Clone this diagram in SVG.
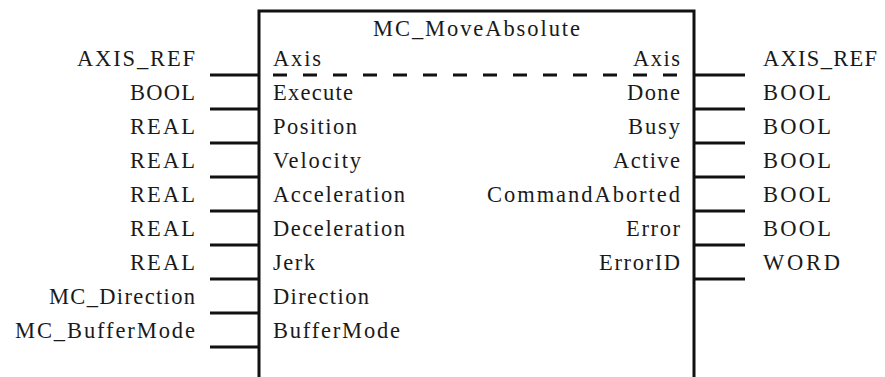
<svg xmlns="http://www.w3.org/2000/svg" width="885" height="377" viewBox="0 0 885 377">
<style>
text{font-family:"Liberation Serif","Times New Roman",serif;font-size:22.5px;fill:#1a1a1a;}
.e{text-anchor:end;}
.pin{stroke:#111;stroke-width:3;fill:none;}
.box{stroke:#111;stroke-width:3;fill:#fff;}
.dash{stroke:#111;stroke-width:3;stroke-dasharray:14 16;fill:none;}
</style>
<rect width="885" height="377" fill="#fff"/>
<g id="block">
<path class="box" d="M259,380 V11 H694 V380"/>
<text x="373" y="36" textLength="207" lengthAdjust="spacing">MC_MoveAbsolute</text>
<line class="dash" x1="273" y1="75" x2="680" y2="75"/>
<text x="273" y="66" textLength="48" lengthAdjust="spacing">Axis</text>
<text x="273" y="100" textLength="80" lengthAdjust="spacing">Execute</text>
<text x="273" y="134" textLength="84" lengthAdjust="spacing">Position</text>
<text x="273" y="168" textLength="88" lengthAdjust="spacing">Velocity</text>
<text x="273" y="202" textLength="132" lengthAdjust="spacing">Acceleration</text>
<text x="273" y="236" textLength="132" lengthAdjust="spacing">Deceleration</text>
<text x="273" y="270" textLength="42" lengthAdjust="spacing">Jerk</text>
<text x="273" y="304" textLength="96" lengthAdjust="spacing">Direction</text>
<text x="273" y="338" textLength="127" lengthAdjust="spacing">BufferMode</text>
<text class="e" x="680" y="66" textLength="47" lengthAdjust="spacing">Axis</text>
<text class="e" x="680" y="100" textLength="53" lengthAdjust="spacing">Done</text>
<text class="e" x="680" y="134" textLength="52" lengthAdjust="spacing">Busy</text>
<text class="e" x="680" y="168" textLength="67" lengthAdjust="spacing">Active</text>
<text class="e" x="680" y="202" textLength="193" lengthAdjust="spacing">CommandAborted</text>
<text class="e" x="680" y="236" textLength="54" lengthAdjust="spacing">Error</text>
<text class="e" x="680" y="270" textLength="81" lengthAdjust="spacing">ErrorID</text>
</g>
<g id="inputs">
<text class="e" x="195" y="66" textLength="118" lengthAdjust="spacing">AXIS_REF</text>
<text class="e" x="195" y="100" textLength="65" lengthAdjust="spacing">BOOL</text>
<text class="e" x="195" y="134" textLength="65" lengthAdjust="spacing">REAL</text>
<text class="e" x="195" y="168" textLength="65" lengthAdjust="spacing">REAL</text>
<text class="e" x="195" y="202" textLength="65" lengthAdjust="spacing">REAL</text>
<text class="e" x="195" y="236" textLength="65" lengthAdjust="spacing">REAL</text>
<text class="e" x="195" y="270" textLength="65" lengthAdjust="spacing">REAL</text>
<text class="e" x="195" y="304" textLength="146" lengthAdjust="spacing">MC_Direction</text>
<text class="e" x="195" y="338" textLength="180" lengthAdjust="spacing">MC_BufferMode</text>
</g>
<g id="outputs">
<text x="763" y="66" textLength="114" lengthAdjust="spacing">AXIS_REF</text>
<text x="763" y="100" textLength="68" lengthAdjust="spacing">BOOL</text>
<text x="763" y="134" textLength="68" lengthAdjust="spacing">BOOL</text>
<text x="763" y="168" textLength="68" lengthAdjust="spacing">BOOL</text>
<text x="763" y="202" textLength="68" lengthAdjust="spacing">BOOL</text>
<text x="763" y="236" textLength="68" lengthAdjust="spacing">BOOL</text>
<text x="763" y="270" textLength="77" lengthAdjust="spacing">WORD</text>
</g>
<g id="connectors" class="pin">
<line x1="210" y1="75" x2="259" y2="75"/>
<line x1="210" y1="109" x2="259" y2="109"/>
<line x1="210" y1="143" x2="259" y2="143"/>
<line x1="210" y1="177" x2="259" y2="177"/>
<line x1="210" y1="211" x2="259" y2="211"/>
<line x1="210" y1="245" x2="259" y2="245"/>
<line x1="210" y1="279" x2="259" y2="279"/>
<line x1="210" y1="313" x2="259" y2="313"/>
<line x1="210" y1="347" x2="259" y2="347"/>
<line x1="694" y1="75" x2="745" y2="75"/>
<line x1="694" y1="109" x2="745" y2="109"/>
<line x1="694" y1="143" x2="745" y2="143"/>
<line x1="694" y1="177" x2="745" y2="177"/>
<line x1="694" y1="211" x2="745" y2="211"/>
<line x1="694" y1="245" x2="745" y2="245"/>
<line x1="694" y1="279" x2="745" y2="279"/>
</g>
</svg>
